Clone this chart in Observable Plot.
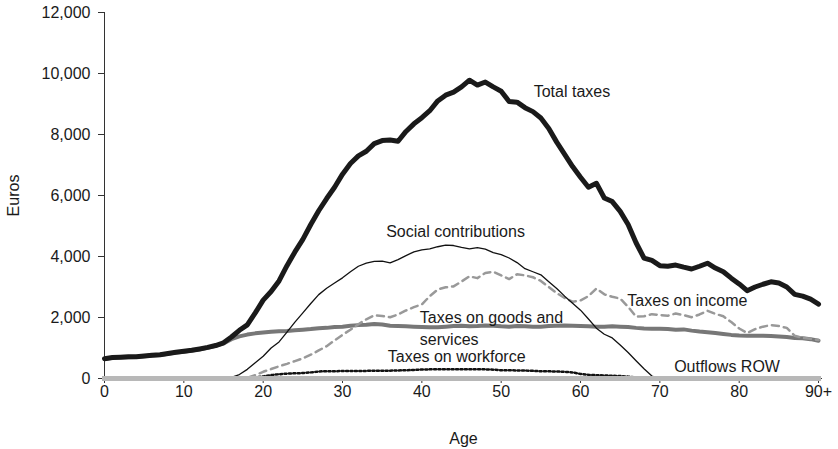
<!DOCTYPE html>
<html><head><meta charset="utf-8">
<script src="https://cdn.jsdelivr.net/npm/d3@7"></script>
<script src="https://cdn.jsdelivr.net/npm/@observablehq/plot@0.6"></script>
<style>body{margin:0;background:#fff}</style>
</head><body><div id="chart"></div>
<script>
const ages = [0,1,2,3,4,5,6,7,8,9,10,11,12,13,14,15,16,17,18,19,20,21,22,23,24,25,26,27,28,29,30,31,32,33,34,35,36,37,38,39,40,41,42,43,44,45,46,47,48,49,50,51,52,53,54,55,56,57,58,59,60,61,62,63,64,65,66,67,68,69,70,71,72,73,74,75,76,77,78,79,80,81,82,83,84,85,86,87,88,89,90];

const totalTaxes = [650,690,700,710,715,740,765,780,820,860,
 890,925,970,1020,1080,1170,1360,1580,1760,2150,
 2570,2850,3200,3700,4150,4560,5050,5500,5900,6270,
 6700,7050,7300,7450,7700,7800,7820,7780,8100,8350,
 8550,8780,9100,9290,9390,9560,9780,9620,9720,9560,
 9420,9080,9060,8880,8750,8540,8200,7750,7350,6950,
 6600,6270,6400,5920,5800,5480,5050,4450,3950,3870,
 3700,3680,3720,3650,3590,3680,3780,3620,3500,3290,
 3100,2880,3000,3090,3170,3130,3000,2760,2700,2600,
 2440];

const socialContributions = [0,0,0,0,0,0,0,0,0,0,
 0,0,0,0,0,0,40,130,300,520,
 730,1000,1200,1520,1850,2150,2460,2750,2960,3130,
 3300,3500,3680,3780,3840,3850,3790,3900,4030,4150,
 4220,4250,4320,4370,4360,4300,4250,4290,4240,4130,
 4060,3950,3800,3600,3500,3400,3170,2950,2700,2470,
 2240,1950,1650,1450,1330,1100,850,580,320,80,
 0,0,0,0,0,0,0,0,0,0,
 0,0,0,0,0,0,0,0,0,0,
 0];

const taxesOnIncome = [0,0,0,0,0,0,0,0,0,0,
 0,0,0,0,0,0,0,0,20,110,
 220,310,400,480,570,660,780,920,1060,1250,
 1430,1600,1780,1940,2070,2050,2010,2100,2230,2340,
 2430,2700,2920,2990,3020,3180,3350,3290,3460,3500,
 3380,3260,3420,3380,3320,3200,3000,2800,2640,2520,
 2560,2700,2950,2760,2680,2620,2350,2030,2040,2110,
 2080,2060,2130,2080,2010,2100,2220,2120,2040,1850,
 1640,1490,1620,1700,1750,1720,1660,1400,1330,1300,
 1260];

const taxesOnGoods = [640,680,690,700,705,730,755,770,810,850,
 880,915,960,1010,1070,1150,1290,1380,1440,1480,
 1510,1535,1550,1560,1580,1600,1620,1650,1660,1690,
 1700,1730,1750,1760,1790,1770,1730,1720,1710,1700,
 1690,1680,1680,1700,1720,1730,1710,1720,1740,1730,
 1710,1700,1720,1710,1700,1700,1720,1730,1740,1730,
 1720,1710,1700,1700,1710,1700,1690,1660,1640,1630,
 1630,1620,1600,1610,1570,1540,1520,1490,1460,1430,
 1410,1400,1400,1400,1390,1380,1360,1330,1320,1290,
 1240];

const taxesOnWorkforce = [0,0,0,0,0,0,0,0,0,0,
 0,0,0,0,0,0,0,0,0,30,
 70,110,140,160,170,180,200,230,240,240,
 245,245,248,250,252,255,258,265,270,280,
 295,300,300,300,300,300,300,300,300,290,
 270,270,265,260,250,240,235,230,220,200,
 150,120,110,100,90,80,60,30,0,0,
 0,0,0,0,0,0,0,0,0,0,
 0,0,0,0,0,0,0,0,0,0,
 0];

const outflowsROW = [0,0,0,0,0,0,0,0,0,0,
 0,0,0,0,0,0,0,0,0,0,
 0,0,0,0,0,0,0,0,0,0,
 0,0,0,0,0,0,0,0,0,0,
 0,0,0,0,0,0,0,0,0,0,
 0,0,0,0,0,0,0,0,0,0,
 0,0,0,0,0,0,0,0,0,0,
 0,0,0,0,0,0,0,0,0,0,
 0,0,0,0,0,0,0,0,0,0,
 0];

const yTicks = [0,2000,4000,6000,8000,10000,12000];
const xTicks = [0,10,20,30,40,50,60,70,80,90];
const xTickLabels = ["0","10","20","30","40","50","60","70","80","90+"];

const labelTexts = ["Total taxes","Social contributions","Taxes on income","Taxes on goods and","services","Taxes on workforce","Outflows ROW"];
const labelAges = [54.1,35.5,65.9,39.75,39.75,35.7,71.8];
const labelValues = [9400,4800,2550,1990,1260,715,390];

const rows = (vals) => ages.map((a,i)=>({age:a, value:vals[i]}));
const labels = labelTexts.map((t,i)=>({text:t, age:labelAges[i], value:labelValues[i]}));

const chart = Plot.plot({
  width: 838, height: 449,
  marginLeft: 104, marginRight: 16, marginTop: 12, marginBottom: 71,
  style: {fontFamily: "'Liberation Sans', Arial, sans-serif", fontSize: "16px", color: "#1a1a1a", background: "#fff"},
  x: {domain: [0, 90.5]},
  y: {domain: [0, 12000]},
  marks: [
    Plot.axisY({ticks: yTicks, tickFormat: d3.format(","), tickSize: 6, tickPadding: 8, label: "Euros", labelAnchor: "center", labelArrow: "none", labelOffset: 97, fontSize: 16, stroke: "#333"}),
    Plot.axisX({ticks: xTicks, tickFormat: d => xTickLabels[xTicks.indexOf(d)], tickSize: 5, tickPadding: 2, label: "Age", labelAnchor: "center", labelArrow: "none", labelOffset: 65, fontSize: 16, stroke: "#333"}),
    Plot.ruleX([0], {stroke: "#333"}),
    Plot.ruleY([0], {stroke: "#333"}),
    Plot.line(rows(taxesOnGoods), {x: "age", y: "value", stroke: "#777", strokeWidth: 4, strokeLinejoin: "round"}),
    Plot.line(rows(taxesOnIncome), {x: "age", y: "value", stroke: "#999", strokeWidth: 2.5, strokeDasharray: "7,5"}),
    Plot.line(rows(taxesOnWorkforce), {x: "age", y: "value", stroke: "#111", strokeWidth: 2.5, strokeDasharray: "2,2.4"}),
    Plot.line(rows(socialContributions), {x: "age", y: "value", stroke: "#111", strokeWidth: 1.3}),
    Plot.line(rows(outflowsROW), {x: "age", y: "value", stroke: "#b8b8b8", strokeWidth: 5, strokeLinecap: "square"}),
    Plot.line(rows(totalTaxes), {x: "age", y: "value", stroke: "#1a1a1a", strokeWidth: 5, strokeLinejoin: "round", strokeLinecap: "round"}),
    Plot.text(labels, {x: "age", y: "value", text: "text", textAnchor: "start", fontSize: 16, fill: "#1a1a1a"})
  ]
});
document.getElementById("chart").appendChild(chart);
</script>
</body></html>
